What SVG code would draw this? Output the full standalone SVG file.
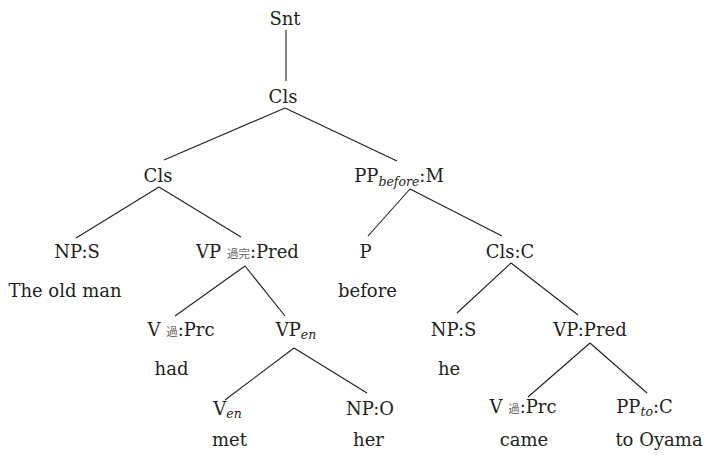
<svg xmlns="http://www.w3.org/2000/svg" width="709" height="455" viewBox="0 0 709 455">
<style>
text{font-family:'DejaVu Serif','Liberation Serif',serif;font-size:18px;fill:#231f20;text-anchor:middle}
.sub{font-style:italic;font-size:12.5px}
.cjk{font-family:'Noto Sans CJK JP',sans-serif;font-size:11.5px;fill:#666}
#edges line{stroke:#231f20;stroke-width:1.1}
</style>
<rect width="709" height="455" fill="#fff"/>
<g id="edges">
<line x1="286" y1="30" x2="286" y2="81"/>
<line x1="285" y1="108" x2="164" y2="160"/>
<line x1="285" y1="108" x2="397" y2="161"/>
<line x1="159" y1="187" x2="76" y2="238"/>
<line x1="159" y1="187" x2="241" y2="237"/>
<line x1="410" y1="189" x2="368" y2="236"/>
<line x1="410" y1="189" x2="502" y2="236"/>
<line x1="245" y1="266" x2="175" y2="316"/>
<line x1="245" y1="266" x2="285" y2="316"/>
<line x1="511" y1="263" x2="457" y2="313"/>
<line x1="511" y1="263" x2="578" y2="315"/>
<line x1="294" y1="348" x2="225" y2="400"/>
<line x1="294" y1="348" x2="367" y2="393"/>
<line x1="590" y1="343" x2="528" y2="397"/>
<line x1="590" y1="343" x2="647" y2="393"/>
</g>
<g id="snt"><text x="285" y="25">Snt</text></g>
<g id="cls-top"><text x="283" y="103">Cls</text></g>
<g id="cls-left"><text x="158" y="182">Cls</text></g>
<g id="pp-before"><text x="399" y="182">PP<tspan class="sub" dy="4">before</tspan><tspan dy="-4">:M</tspan></text></g>
<g id="np-s-left"><text x="77" y="258">NP:S</text><text x="65" y="297">The old man</text></g>
<g id="vp-pred-left"><text x="247.5" y="258">VP <tspan class="cjk">過完</tspan>:Pred</text></g>
<g id="p"><text x="365.5" y="258">P</text><text x="367.5" y="297">before</text></g>
<g id="cls-c"><text x="510" y="258">Cls:C</text></g>
<g id="v-prc-left"><text x="181" y="336">V <tspan class="cjk">過</tspan>:Prc</text><text x="171.5" y="375">had</text></g>
<g id="vp-en"><text x="296" y="336">VP<tspan class="sub" dy="3">en</tspan></text></g>
<g id="np-s-right"><text x="453.5" y="336">NP:S</text><text x="449" y="375">he</text></g>
<g id="vp-pred-right"><text x="590" y="336">VP:Pred</text></g>
<g id="v-en"><text x="227.5" y="415">V<tspan class="sub" dy="3">en</tspan></text><text x="229.5" y="446">met</text></g>
<g id="np-o"><text x="370" y="415">NP:O</text><text x="368.5" y="446">her</text></g>
<g id="v-prc-right"><text x="523" y="413">V <tspan class="cjk">過</tspan>:Prc</text><text x="524" y="446">came</text></g>
<g id="pp-to"><text x="644.5" y="413">PP<tspan class="sub" dy="3">to</tspan><tspan dy="-3">:C</tspan></text><text x="659" y="446">to Oyama</text></g>
</svg>
